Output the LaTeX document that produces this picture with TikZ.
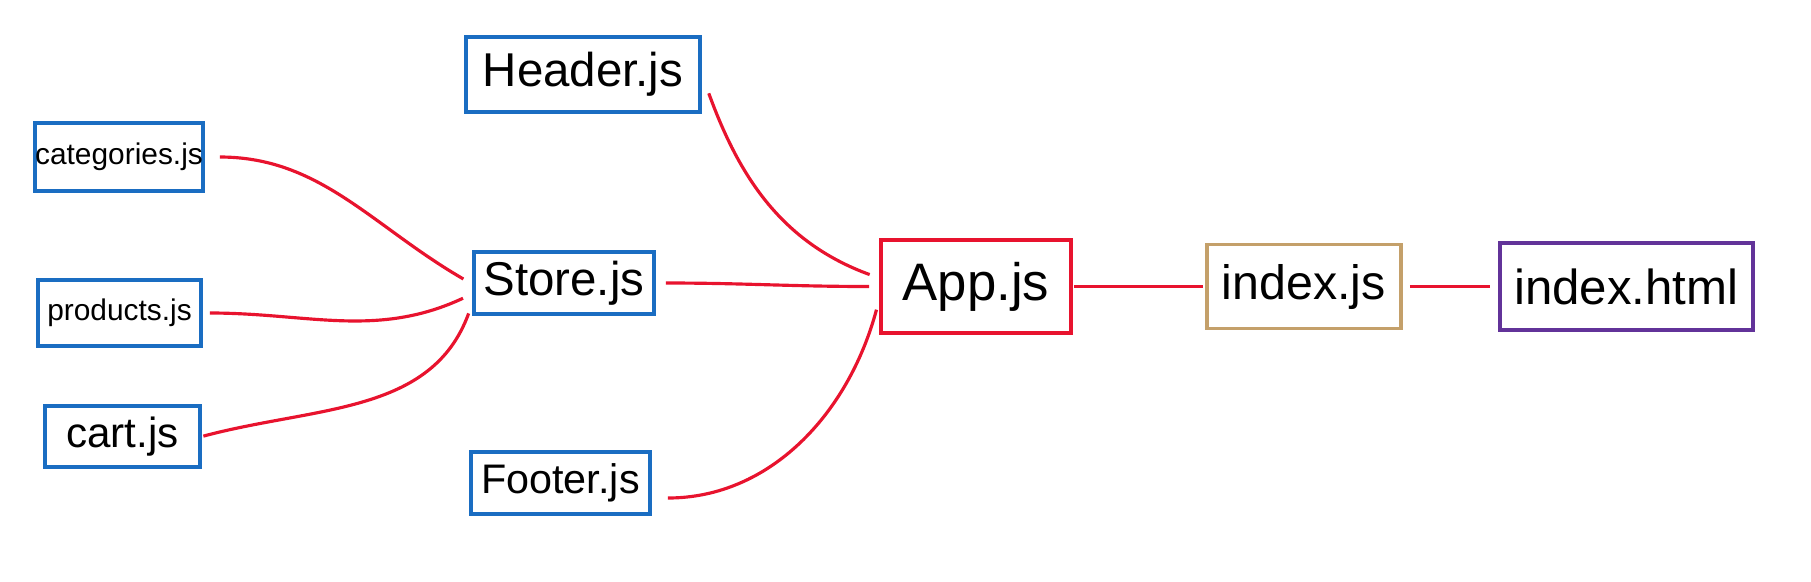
\documentclass[tikz,border=0pt]{standalone}
\usepackage{fontspec}
\setmainfont{Liberation Sans}
\usetikzlibrary{positioning}
\definecolor{fileblue}{HTML}{1A6DC2}
\definecolor{linkred}{HTML}{E8132E}
\definecolor{idxtan}{HTML}{C4A06A}
\definecolor{htmlpurple}{HTML}{623399}

\begin{document}
\begin{tikzpicture}[
    file/.style={draw=fileblue, line width=2.2pt, align=center, inner sep=0pt},
    link/.style={draw=linkred, line width=1.8pt, shorten <=0.2cm, shorten >=0.2cm}]
    \useasboundingbox (0,0) rectangle (36.22,-11.62);

    \node[file, minimum width=4.68cm, minimum height=1.5cm,
        font=\fontsize{27pt}{30pt}\selectfont] (header) at (11.66,-1.49) {Header.js};
    \node[file, minimum width=3.24cm, minimum height=1.36cm,
        font=\fontsize{17pt}{20pt}\selectfont] (cat) at (2.38,-3.14) {categories.js};
    \node[file, minimum width=3.26cm, minimum height=1.32cm,
        font=\fontsize{17pt}{20pt}\selectfont] (prod) at (2.39,-6.26) {products.js};
    \node[file, minimum width=3.1cm, minimum height=1.22cm,
        font=\fontsize{24pt}{27pt}\selectfont] (cart) at (2.45,-8.73) {cart.js};
    \node[file, minimum width=3.6cm, minimum height=1.24cm,
        font=\fontsize{27pt}{30pt}\selectfont] (store) at (11.28,-5.66) {Store.js};
    \node[file, minimum width=3.58cm, minimum height=1.24cm,
        font=\fontsize{23.5pt}{27pt}\selectfont] (footer) at (11.21,-9.66) {Footer.js};

    \node[file, draw=linkred, minimum width=3.8cm, minimum height=1.86cm,
        font=\fontsize{30pt}{33pt}\selectfont] (app) at (19.52,-5.73) {App.js};
    \node[file, draw=idxtan, minimum width=3.88cm, minimum height=1.68cm,
        font=\fontsize{27.5pt}{30pt}\selectfont, right=2.64cm of app] (idx) {index.js};
    \node[file, draw=htmlpurple, minimum width=5.06cm, minimum height=1.74cm,
        font=\fontsize{28pt}{31pt}\selectfont, right=1.9cm of idx] (html) {index.html};

    % leaves into Store.js
    \draw[link, shorten <=0.3cm] (cat.east) to[out=0, in=150] ([yshift=-0.02cm]store.west);
    \draw[link, shorten <=0.14cm] (prod.east) to[out=0, in=205] ([yshift=-0.22cm]store.west);
    \draw[link, shorten <=0.03cm] (cart.east) to[out=15, in=250] ([yshift=-0.42cm]store.west);

    % into App.js
    \draw[link, shorten <=0.4cm] (header.east) to[out=-70, in=160] ([yshift=0.17cm]app.west);
    \draw[link] (store.east) to[out=0, in=180] (app.west);
    \draw[link, shorten <=0.32cm] ([yshift=-0.3cm]footer.east) to[out=0, in=-105] ([yshift=-0.27cm]app.west);

    \draw[link, shorten <=0.02cm, shorten >=0.04cm] (app) -- (idx);
    \draw[link, shorten <=0.14cm, shorten >=0.16cm] (idx) -- (html);
\end{tikzpicture}
\end{document}
